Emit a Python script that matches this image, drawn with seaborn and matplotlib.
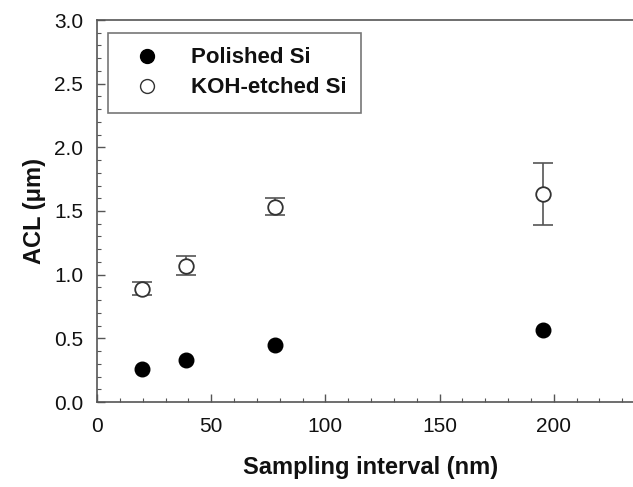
import matplotlib
matplotlib.use("Agg")
import matplotlib.pyplot as plt
from matplotlib.lines import Line2D
from matplotlib.ticker import MultipleLocator, FormatStrFormatter
import pandas as pd
import seaborn as sns

# Sampling intervals (nm) and autocorrelation lengths (um)
interval_nm = [19.5, 39.1, 78.1, 195.3]
acl_polished = [0.26, 0.33, 0.445, 0.565]
acl_koh = [0.89, 1.07, 1.535, 1.635]
acl_koh_err = [0.05, 0.075, 0.07, 0.245]

series_names = ["Polished Si", "KOH-etched Si"]

sns.set_theme(style="white")
plt.rcParams["font.family"] = ["Liberation Sans", "DejaVu Sans"]

df = pd.DataFrame({
    "interval": interval_nm * 2,
    "acl": acl_polished + acl_koh,
    "sample": [series_names[0]] * 4 + [series_names[1]] * 4,
})

fig = plt.figure(figsize=(6.33, 4.87), dpi=100)
ax = fig.add_axes([97 / 633, 1 - 402 / 487, 548 / 633, 382 / 487])

axis_grey = "#555555"

ax.errorbar(interval_nm, acl_koh, yerr=acl_koh_err, fmt="none",
            ecolor=axis_grey, elinewidth=1.2, capsize=7, capthick=1.2, zorder=2)

sns.scatterplot(data=df[df["sample"] == series_names[0]], x="interval", y="acl",
                ax=ax, color="black", edgecolor="black", s=110, linewidth=1,
                zorder=3, legend=False)
sns.scatterplot(data=df[df["sample"] == series_names[1]], x="interval", y="acl",
                ax=ax, color="white", edgecolor="#333333", s=110, linewidth=1.3,
                zorder=3, legend=False)

ax.set_xlim(0, 240)
ax.set_ylim(0, 3.0)
ax.xaxis.set_major_locator(MultipleLocator(50))
ax.xaxis.set_minor_locator(MultipleLocator(10))
ax.yaxis.set_major_locator(MultipleLocator(0.5))
ax.yaxis.set_minor_locator(MultipleLocator(0.1))
ax.yaxis.set_major_formatter(FormatStrFormatter("%.1f"))

ax.tick_params(which="both", direction="in", colors=axis_grey,
               labelcolor="#111111", labelsize=15, bottom=True, left=True,
               top=False, right=False)
ax.tick_params(which="major", length=6, width=1)
ax.tick_params(which="minor", length=3, width=0.8)
ax.tick_params(axis="x", pad=11)
ax.tick_params(axis="y", pad=10)

for side in ["left", "bottom", "top"]:
    ax.spines[side].set_color(axis_grey)
    ax.spines[side].set_linewidth(1.2)
ax.spines["right"].set_visible(False)

ax.set_xlabel("Sampling interval (nm)", fontsize=17, fontweight="bold",
              labelpad=14, color="#111111")
ax.set_ylabel("ACL (μm)", fontsize=17, fontweight="bold", labelpad=6,
              color="#111111")

handles = [
    Line2D([], [], linestyle="none", marker="o", markersize=10,
           markerfacecolor="black", markeredgecolor="black"),
    Line2D([], [], linestyle="none", marker="o", markersize=10,
           markerfacecolor="white", markeredgecolor="#333333"),
]
leg = ax.legend(handles, series_names, loc="upper left",
                bbox_to_anchor=(11 / 548, 1 - 13 / 382),
                prop={"weight": "bold", "size": 16}, frameon=True,
                fancybox=False, edgecolor=axis_grey, handletextpad=0.9,
                borderpad=0.65, labelspacing=0.4, handlelength=2.2,
                borderaxespad=0)
leg.get_frame().set_linewidth(1.2)
for t in leg.get_texts():
    t.set_color("#111111")

fig.savefig("out.png", dpi=100)
